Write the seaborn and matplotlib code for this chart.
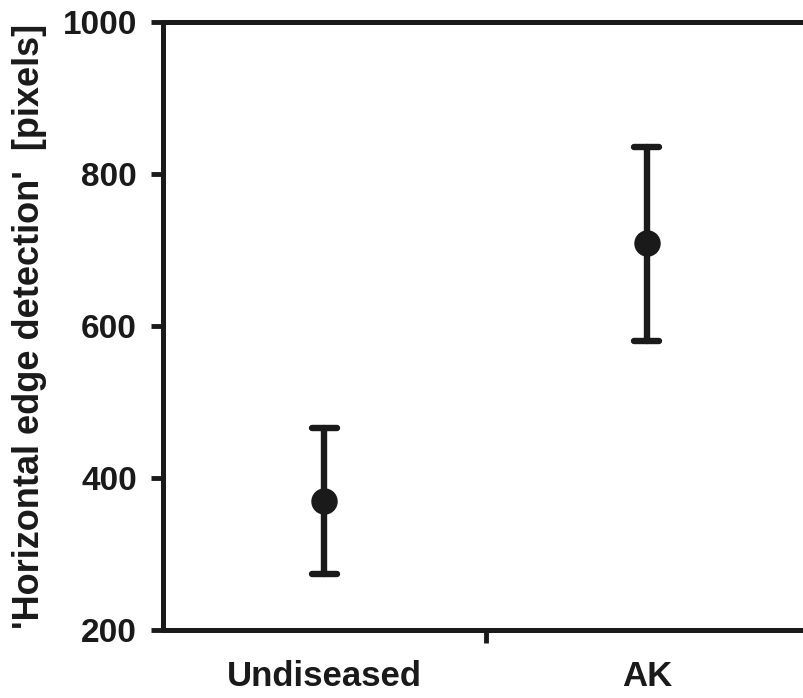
import matplotlib
matplotlib.use("Agg")
import matplotlib.pyplot as plt
import seaborn as sns
import pandas as pd

# values (mean with lower/upper error bar ends)
groups = ["Undiseased", "AK"]
means = [370, 709]
lower = [273, 580]
upper = [465, 836]
y_ticks = [200, 400, 600, 800, 1000]

# long table: three rows per group, median = mean, min/max = error ends
rows = []
for g, lo, m, hi in zip(groups, lower, means, upper):
    for v in (lo, m, hi):
        rows.append({"group": g, "value": v})
df = pd.DataFrame(rows)

sns.set_style("white")
plt.rcParams["font.family"] = ["Liberation Sans", "DejaVu Sans"]
plt.rcParams["font.weight"] = "bold"

ink = "#1a1a1a"
fig = plt.figure(figsize=(8.04, 6.98), dpi=100)
ax = fig.add_axes([0.203, 0.098, 0.802, 0.870])

sns.pointplot(
    data=df, x="group", y="value", order=groups,
    estimator="median",
    errorbar=lambda x: (x.min(), x.max()),
    linestyle="none", markers="o", color=ink,
    markersize=17, capsize=0.078,
    err_kws={"linewidth": 4.6, "solid_capstyle": "round"},
    ax=ax,
)

ax.set_xlim(-0.5, 1.5)
ax.set_ylim(200, 1000)
ax.set_yticks(y_ticks)
ax.set_yticklabels([str(t) for t in y_ticks], fontsize=24, fontweight="bold")

# category labels without tick marks, one tick mark between the groups
ax.set_xticks([0, 1])
ax.set_xticklabels(groups, fontsize=25, fontweight="bold")
ax.tick_params(axis="x", which="major", bottom=True, length=0, pad=22, labelcolor=ink)
ax.set_xticks([0.5], minor=True)
ax.tick_params(axis="x", which="minor", bottom=True, length=9, width=3.5,
               color=ink, direction="out")
ax.tick_params(axis="y", left=True, length=9, width=3.5, color=ink,
               direction="out", pad=10, labelcolor=ink)

for side in ["left", "bottom", "top"]:
    ax.spines[side].set_visible(True)
    ax.spines[side].set_linewidth(3.6)
    ax.spines[side].set_color(ink)
ax.spines["right"].set_visible(False)

ax.set_xlabel("")
ax.set_ylabel("'Horizontal edge detection'  [pixels]", fontsize=26,
              fontweight="bold", color=ink, labelpad=11)
ax.grid(False)

fig.savefig("out.png", dpi=100)
